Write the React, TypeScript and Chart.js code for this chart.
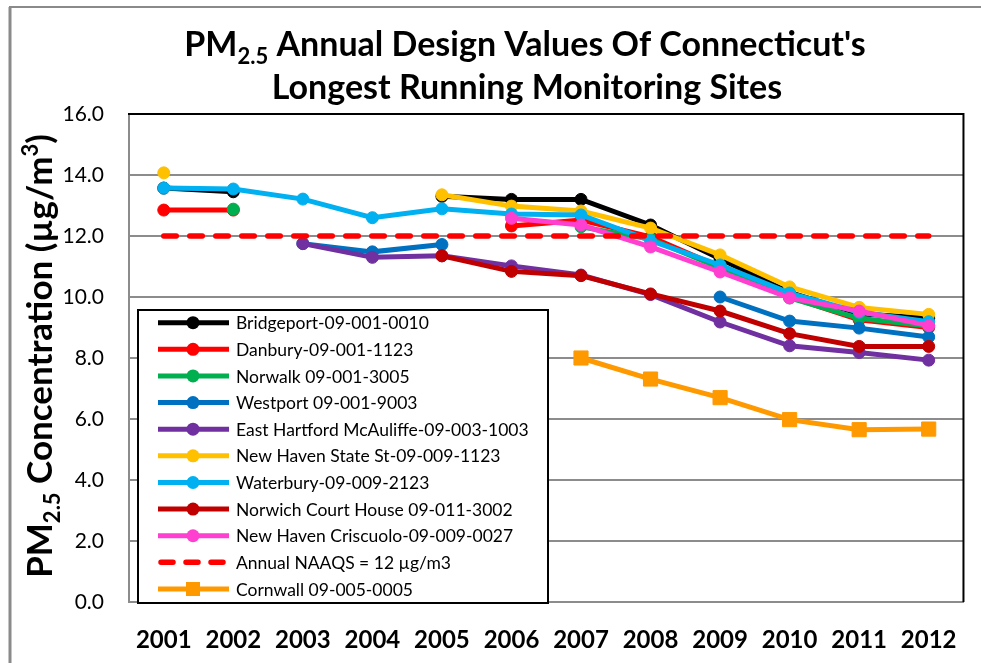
import React, { useEffect, useRef } from 'react';
import { Chart, registerables } from 'chart.js';

Chart.register(...registerables);

const years = ['2001', '2002', '2003', '2004', '2005', '2006', '2007', '2008', '2009', '2010', '2011', '2012'];

const bridgeport = [13.57, 13.45, null, null, 13.3, 13.2, 13.2, 12.36, 11.25, 10.15, 9.45, 9.3];
const danbury = [12.85, 12.85, null, null, null, 12.33, 12.52, 11.97, 10.98, 10.0, 9.25, 9.0];
const norwalk = [null, 12.88, null, null, null, null, 12.3, 11.9, 10.95, 9.97, 9.3, 9.05];
const westport = [null, null, 11.75, 11.48, 11.72, null, null, null, 10.0, 9.21, 8.98, 8.69];
const eastHartford = [null, null, 11.75, 11.3, 11.35, 11.02, 10.72, 10.08, 9.18, 8.4, 8.18, 7.93];
const newHavenStateSt = [14.07, null, null, null, 13.35, 12.98, 12.82, 12.26, 11.38, 10.33, 9.66, 9.43];
const waterbury = [13.57, 13.54, 13.21, 12.6, 12.89, 12.72, 12.69, 11.85, 11.05, 10.13, 9.5, 9.19];
const norwich = [null, null, null, null, 11.35, 10.84, 10.7, 10.1, 9.54, 8.8, 8.38, 8.38];
const criscuolo = [null, null, null, null, null, 12.58, 12.36, 11.64, 10.82, 9.97, 9.54, 9.06];
const naaqs = [12, 12, 12, 12, 12, 12, 12, 12, 12, 12, 12, 12];
const cornwall = [null, null, null, null, null, null, 8.0, 7.31, 6.7, 5.98, 5.65, 5.67];

const seriesLabels = [
  'Bridgeport-09-001-0010',
  'Danbury-09-001-1123',
  'Norwalk 09-001-3005',
  'Westport 09-001-9003',
  'East Hartford McAuliffe-09-003-1003',
  'New Haven State St-09-009-1123',
  'Waterbury-09-009-2123',
  'Norwich Court House 09-011-3002',
  'New Haven Criscuolo-09-009-0027',
  'Annual NAAQS = 12 µg/m3',
  'Cornwall 09-005-0005',
];
const seriesData = [bridgeport, danbury, norwalk, westport, eastHartford, newHavenStateSt, waterbury, norwich, criscuolo, naaqs, cornwall];
const seriesColors = ['#000000', '#FF0000', '#00B050', '#0070C0', '#7030A0', '#FFC000', '#00B0F0', '#C00000', '#FF3FCF', '#FF0000', '#FF9900'];

const yTicks = [0, 2, 4, 6, 8, 10, 12, 14, 16];

const FONT = 'Lato, "Open Sans", "DejaVu Sans", sans-serif';

type Part = { t: string; s: number; dy?: number };

function drawParts(ctx: CanvasRenderingContext2D, parts: Part[], cx: number, y: number) {
  let total = 0;
  const widths: number[] = [];
  for (const p of parts) {
    ctx.font = `bold ${p.s}px ${FONT}`;
    const w = ctx.measureText(p.t).width;
    widths.push(w);
    total += w;
  }
  let x = cx - total / 2;
  ctx.textAlign = 'left';
  ctx.textBaseline = 'alphabetic';
  parts.forEach((p, i) => {
    ctx.font = `bold ${p.s}px ${FONT}`;
    ctx.fillText(p.t, x, y + (p.dy || 0));
    x += widths[i];
  });
}

const decorPlugin = {
  id: 'decor',
  beforeDraw(chart: any) {
    const ctx = chart.ctx as CanvasRenderingContext2D;
    ctx.save();
    ctx.fillStyle = '#ffffff';
    ctx.fillRect(0, 0, chart.width, chart.height);
    ctx.strokeStyle = '#8a8a8a';
    ctx.lineWidth = 3;
    ctx.beginPath();
    ctx.moveTo(10, chart.height + 2);
    ctx.lineTo(10, 7);
    ctx.stroke();
    ctx.lineWidth = 2;
    ctx.beginPath();
    ctx.moveTo(9, 7);
    ctx.lineTo(chart.width + 2, 7);
    ctx.stroke();
    ctx.restore();
  },
  afterDraw(chart: any) {
    const ctx = chart.ctx as CanvasRenderingContext2D;
    const area = chart.chartArea;
    ctx.save();
    // plot border top & right
    ctx.strokeStyle = '#000000';
    ctx.lineWidth = 2;
    ctx.beginPath();
    ctx.moveTo(area.left - 1, area.top);
    ctx.lineTo(area.right, area.top);
    ctx.lineTo(area.right, area.bottom);
    ctx.stroke();

    // title
    ctx.fillStyle = '#000000';
    drawParts(ctx, [
      { t: 'PM', s: 34 },
      { t: '2.5', s: 22, dy: 8 },
      { t: " Annual Design Values Of Connecticut's", s: 34 },
    ], 525, 56);
    drawParts(ctx, [{ t: 'Longest Running Monitoring Sites', s: 34 }], 527, 99);

    // y axis title
    ctx.save();
    ctx.translate(52, 356);
    ctx.rotate(-Math.PI / 2);
    drawParts(ctx, [
      { t: 'PM', s: 35 },
      { t: '2.5', s: 22, dy: 8 },
      { t: ' Concentration (µg/m', s: 35 },
      { t: '3', s: 22, dy: -14 },
      { t: ')', s: 35 },
    ], 0, 0);
    ctx.restore();

    // legend
    const lx = 138, ly = 310, lw = 410, lh = 293;
    ctx.fillStyle = '#ffffff';
    ctx.fillRect(lx, ly, lw, lh);
    ctx.strokeStyle = '#000000';
    ctx.lineWidth = 2;
    ctx.strokeRect(lx, ly, lw, lh);
    const rowH = 26.63;
    chart.data.datasets.forEach((ds: any, i: number) => {
      const y = 322.7 + i * rowH;
      const dashed = ds.borderDash && ds.borderDash.length;
      ctx.save();
      ctx.strokeStyle = ds.borderColor;
      ctx.lineWidth = ds.borderWidth;
      ctx.lineCap = dashed ? 'round' : 'butt';
      ctx.setLineDash(dashed ? [12, 13] : []);
      ctx.beginPath();
      ctx.moveTo(dashed ? 161 : 158, y);
      ctx.lineTo(dashed ? 227 : 229, y);
      ctx.stroke();
      ctx.setLineDash([]);
      ctx.fillStyle = ds.borderColor;
      if (ds.pointRadius > 0) {
        if (ds.pointStyle === 'rect') {
          ctx.fillRect(193 - 7, y - 7, 14, 14);
        } else {
          ctx.beginPath();
          ctx.arc(193, y, 6.5, 0, Math.PI * 2);
          ctx.fill();
        }
      }
      ctx.restore();
      ctx.fillStyle = '#000000';
      ctx.font = `17.5px ${FONT}`;
      ctx.textAlign = 'left';
      ctx.textBaseline = 'middle';
      ctx.fillText(ds.label, 236, y + 1);
    });
    ctx.restore();
  },
};

export default function App() {
  const ref = useRef<HTMLCanvasElement | null>(null);
  useEffect(() => {
    if (!ref.current) return;
    const datasets = seriesLabels.map((label, i) => {
      const color = seriesColors[i];
      const isLimit = i === 9;
      const isSquare = i === 10;
      return {
        label,
        data: seriesData[i],
        borderColor: color,
        backgroundColor: color,
        pointBackgroundColor: color,
        pointBorderColor: color,
        borderWidth: isLimit ? 5.5 : 5,
        borderDash: isLimit ? [12.5, 13.5] : [],
        borderCapStyle: isLimit ? 'round' : 'butt',
        pointRadius: isLimit ? 0 : isSquare ? 10 : 6,
        pointHoverRadius: isLimit ? 0 : isSquare ? 10 : 6,
        pointBorderWidth: 1,
        pointStyle: isSquare ? 'rect' : 'circle',
        spanGaps: false,
        tension: 0,
        fill: false,
        order: 20 - i,
      };
    });
    const chart = new Chart(ref.current, {
      type: 'line',
      data: { labels: years, datasets: datasets as any },
      options: {
        animation: false,
        responsive: false,
        layout: { padding: { top: 114, right: 10, left: 0, bottom: 0 } },
        plugins: {
          legend: { display: false },
          title: { display: false },
          tooltip: { enabled: false },
        },
        scales: {
          x: {
            offset: true,
            ticks: {
              color: '#000000',
              font: { family: FONT, size: 24, weight: 'bold' },
              padding: 24,
              maxRotation: 0,
              autoSkip: false,
            },
            grid: { display: false, drawTicks: false },
            border: { display: true, color: '#8c8c8c', width: 2 },
            afterFit: (s: any) => { s.height = 61; },
          },
          y: {
            min: yTicks[0],
            max: yTicks[yTicks.length - 1],
            afterBuildTicks: (s: any) => { s.ticks = yTicks.map((v) => ({ value: v })); },
            ticks: {
              color: '#000000',
              font: { family: FONT, size: 21 },
              padding: 25,
              callback: (v: any) => Number(v).toFixed(1),
            },
            grid: { color: '#8c8c8c', lineWidth: 2, drawTicks: false },
            border: { display: true, color: '#8c8c8c', width: 2 },
            afterFit: (s: any) => { s.width = 129; },
          },
        },
      } as any,
      plugins: [decorPlugin],
    });
    return () => chart.destroy();
  }, []);
  return (
    <div style={{ position: 'fixed', left: 0, top: 0, width: 981, height: 663, background: '#fff' }}>
      <canvas ref={ref} width={981} height={663} style={{ width: 981, height: 663, display: 'block' }} />
    </div>
  );
}
